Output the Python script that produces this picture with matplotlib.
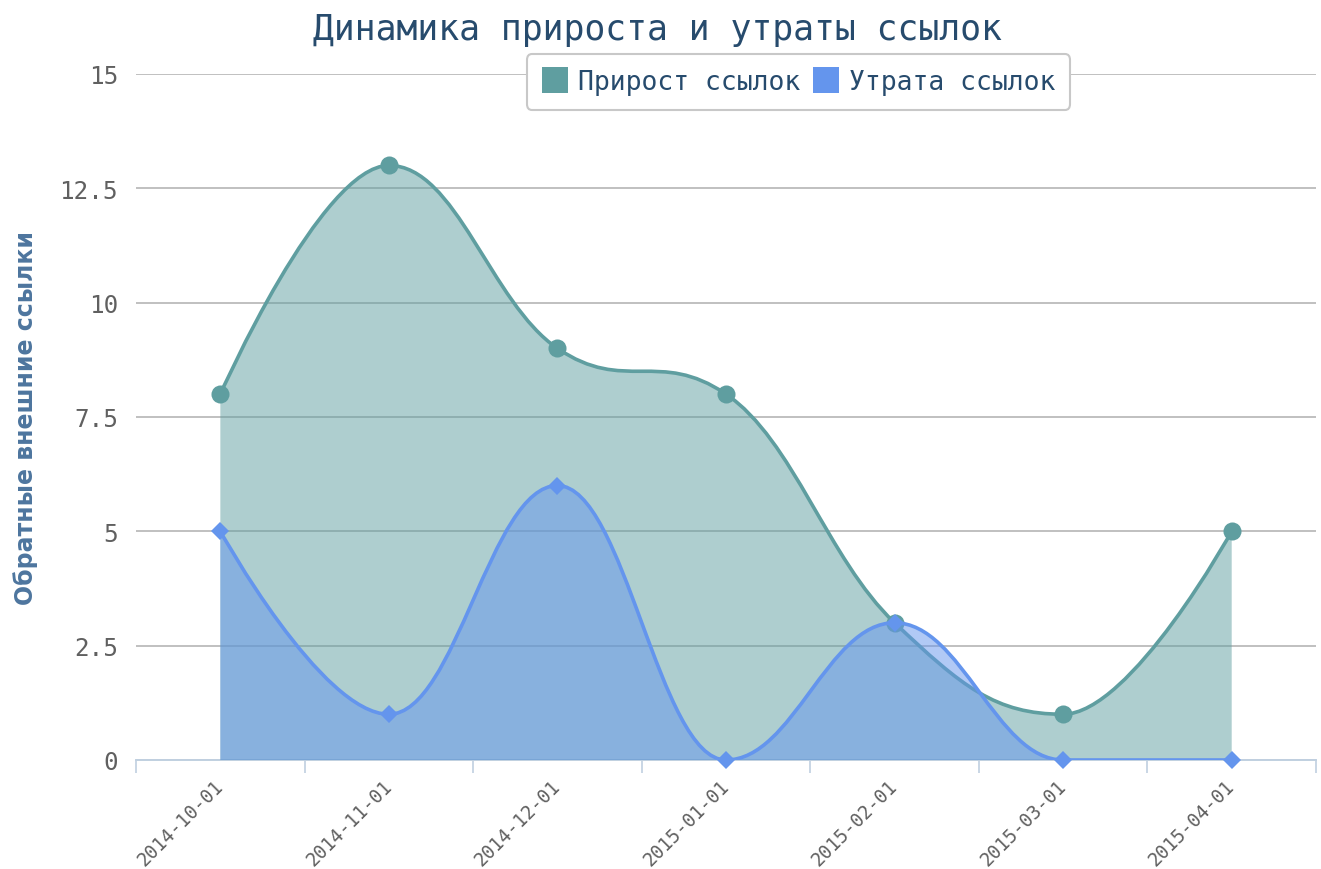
import numpy as np
import matplotlib
matplotlib.use("Agg")
import matplotlib.pyplot as plt
from matplotlib.path import Path
from matplotlib.patches import PathPatch
from matplotlib.lines import Line2D
from matplotlib.ticker import FixedLocator

# data
dates = ["2014-10-01", "2014-11-01", "2014-12-01", "2015-01-01",
         "2015-02-01", "2015-03-01", "2015-04-01"]
growth = [8, 13, 9, 8, 3, 1, 5]
loss = [5, 1, 6, 0, 3, 0, 0]

TITLE = "Динамика прироста и утраты ссылок"
YLABEL = "Обратные внешние ссылки"
GROWTH_NAME = "Прирост ссылок"
LOSS_NAME = "Утрата ссылок"

GROWTH_COLOR = "#5F9EA0"
LOSS_COLOR = "#6495ED"
MONO = "DejaVu Sans Mono"


def spline_path(xs, ys, smoothing=1.5):
    """Highcharts-style spline control points as a bezier path."""
    n = len(xs)
    left = [(xs[i], ys[i]) for i in range(n)]
    right = [(xs[i], ys[i]) for i in range(n)]
    denom = smoothing + 1
    for i in range(1, n - 1):
        px, py = xs[i], ys[i]
        lx, ly = xs[i - 1], ys[i - 1]
        nx, ny = xs[i + 1], ys[i + 1]
        lcx = (smoothing * px + lx) / denom
        lcy = (smoothing * py + ly) / denom
        rcx = (smoothing * px + nx) / denom
        rcy = (smoothing * py + ny) / denom
        corr = (rcy - lcy) * (rcx - px) / (rcx - lcx) + py - rcy
        lcy += corr
        rcy += corr
        if lcy > ly and lcy > py:
            lcy = max(ly, py)
            rcy = 2 * py - lcy
        elif lcy < ly and lcy < py:
            lcy = min(ly, py)
            rcy = 2 * py - lcy
        if rcy > ny and rcy > py:
            rcy = max(ny, py)
            lcy = 2 * py - rcy
        elif rcy < ny and rcy < py:
            rcy = min(ny, py)
            lcy = 2 * py - rcy
        left[i] = (lcx, lcy)
        right[i] = (rcx, rcy)
    verts = [(xs[0], ys[0])]
    codes = [Path.MOVETO]
    for i in range(1, n):
        verts += [right[i - 1], left[i], (xs[i], ys[i])]
        codes += [Path.CURVE4] * 3
    return verts, codes


def draw_series(ax, xs, ys, color, marker, msize, z):
    verts, codes = spline_path(xs, ys)
    # area down to zero
    fverts = verts + [(xs[-1], 0), (xs[0], 0), (xs[0], ys[0])]
    fcodes = codes + [Path.LINETO, Path.LINETO, Path.CLOSEPOLY]
    ax.add_patch(PathPatch(Path(fverts, fcodes), facecolor=color, alpha=0.5,
                           edgecolor="none", zorder=z))
    ax.add_patch(PathPatch(Path(verts, codes), facecolor="none", edgecolor=color,
                           linewidth=2.6, zorder=z + 0.1, capstyle="round"))
    ax.plot(xs, ys, linestyle="none", marker=marker, markersize=msize,
            color=color, markeredgewidth=0, zorder=z + 0.2, clip_on=False)


fig = plt.figure(figsize=(13.21, 8.70), dpi=100)
ax = fig.add_axes([0.103, 0.1253, 0.8932, 0.7885])

x = list(range(len(dates)))
draw_series(ax, x, growth, GROWTH_COLOR, "o", 13, 2)
draw_series(ax, x, loss, LOSS_COLOR, "D", 9, 3)

ax.set_xlim(-0.5, len(dates) - 0.5)
ax.set_ylim(0, 15)
ax.set_yticks([0, 2.5, 5, 7.5, 10, 12.5, 15])
ax.set_yticklabels(["0", "2.5", "5", "7.5", "10", "12.5", "15"],
                   fontfamily=MONO, fontsize=17.5, color="#606060")
ax.tick_params(axis="y", length=0, pad=13)
ax.yaxis.grid(True, color="#C0C0C0", linewidth=1.4)
ax.set_axisbelow(True)

ax.set_xticks(x)
ax.set_xticklabels(dates, rotation=45, ha="right", va="center",
                   rotation_mode="anchor",
                   fontfamily=MONO, fontsize=13.5, color="#606060")
ax.tick_params(axis="x", which="major", length=0, pad=16)
ax.xaxis.set_minor_locator(FixedLocator([i - 0.5 for i in range(len(dates) + 1)]))
ax.tick_params(axis="x", which="minor", length=9, width=1.2, color="#C0D0E0")

for side in ["top", "right", "left"]:
    ax.spines[side].set_visible(False)
ax.spines["bottom"].set_color("#C0D0E0")
ax.spines["bottom"].set_linewidth(1.4)
ax.spines["bottom"].set_zorder(1)

ax.set_ylabel(YLABEL, fontsize=17, fontweight="bold", color="#4D759E")
ax.yaxis.set_label_coords(-0.083, 0.5)

fig.text(0.498, 0.965, TITLE, ha="center", va="center", fontfamily=MONO,
         fontsize=25, color="#274B6D")

handles = [
    Line2D([], [], linestyle="none", marker="s", markersize=19,
           color=GROWTH_COLOR, markeredgewidth=0),
    Line2D([], [], linestyle="none", marker="s", markersize=19,
           color=LOSS_COLOR, markeredgewidth=0),
]
leg = fig.legend(handles, [GROWTH_NAME, LOSS_NAME], loc="center",
                 bbox_to_anchor=(0.6045, 0.9046), ncol=2, frameon=True,
                 fancybox=True, framealpha=1, edgecolor="#C8C8C8",
                 prop={"family": MONO, "size": 19}, handlelength=1.0,
                 handletextpad=0.4, columnspacing=0.45, borderpad=0.55,
                 borderaxespad=0)
for t in leg.get_texts():
    t.set_color("#274B6D")
leg.get_frame().set_linewidth(1.5)

fig.savefig("out.png", dpi=100)
